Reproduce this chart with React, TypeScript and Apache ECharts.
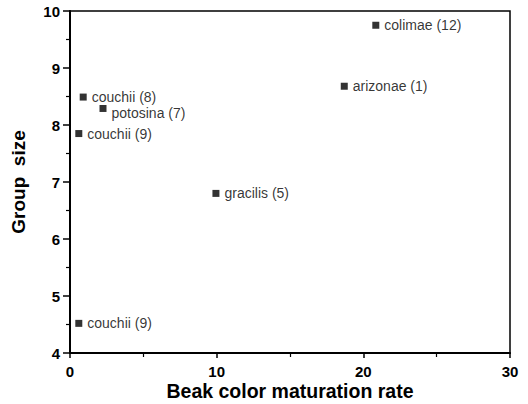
import React, { useEffect, useRef } from "react";
import * as echarts from "echarts";

const names = ["colimae (12)", "arizonae (1)", "couchii (8)", "potosina (7)", "couchii (9)", "gracilis (5)", "couchii (9)"];
const beakRate = [20.85, 18.7, 0.9, 2.25, 0.6, 9.95, 0.6];
const groupSize = [9.75, 8.68, 8.49, 8.29, 7.85, 6.8, 4.52];
const labelOffsets = [[0, 0], [0, 0], [0, 0], [0, 5], [0, 0], [0, 0], [0, 0]];
const xTicks = [0, 10, 20, 30];
const yTicks = [4, 5, 6, 7, 8, 9, 10];

const FONT = "Liberation Sans, Arial, Helvetica, sans-serif";

export default function App() {
  const ref = useRef<HTMLDivElement>(null);
  useEffect(() => {
    if (!ref.current) return;
    const chart = echarts.init(ref.current, undefined, { renderer: "svg" });
    chart.setOption({
      animation: false,
      backgroundColor: "#ffffff",
      textStyle: { fontFamily: FONT, color: "#000" },
      grid: {
        left: 70,
        right: 18,
        top: 11,
        bottom: 51,
        show: true,
        borderColor: "#000",
        borderWidth: 1.5,
        outerBoundsMode: "none",
        containLabel: false,
      },
      xAxis: {
        type: "value",
        min: xTicks[0],
        max: xTicks[xTicks.length - 1],
        interval: 10,
        name: "Beak color maturation rate",
        nameLocation: "middle",
        nameGap: 28,
        nameMoveOverlap: false,
        nameTextStyle: { fontSize: 19.5, lineHeight: 20, fontWeight: "bold", color: "#000", fontFamily: FONT, verticalAlign: "top" },
        axisLine: { show: true, lineStyle: { color: "#000", width: 2 } },
        axisTick: { show: true, length: 5, lineStyle: { color: "#000", width: 1.5 } },
        minorTick: { show: true, splitNumber: 2, length: 4, lineStyle: { color: "#000", width: 1.2 } },
        splitLine: { show: false },
        axisLabel: { fontSize: 15, lineHeight: 15, fontWeight: "bold", color: "#000", margin: 11, fontFamily: FONT },
      },
      yAxis: {
        type: "value",
        min: yTicks[0],
        max: yTicks[yTicks.length - 1],
        interval: 1,
        name: "Group  size",
        nameLocation: "middle",
        nameGap: 42,
        nameMoveOverlap: false,
        nameTextStyle: { fontSize: 19, fontWeight: "bold", color: "#000", fontFamily: FONT },
        axisLine: { show: true, lineStyle: { color: "#000", width: 2 } },
        axisTick: { show: true, length: 7, lineStyle: { color: "#000", width: 1.5 } },
        minorTick: { show: true, splitNumber: 2, length: 4, lineStyle: { color: "#000", width: 1.2 } },
        splitLine: { show: false },
        axisLabel: { fontSize: 15, fontWeight: "bold", color: "#000", margin: 10, fontFamily: FONT },
      },
      series: [
        {
          type: "scatter",
          symbol: "rect",
          symbolSize: 7,
          itemStyle: { color: "#000" },
          label: {
            show: true,
            position: "right",
            distance: 5,
            fontSize: 14,
            color: "#000",
            fontFamily: FONT,
            formatter: (p: any) => names[p.dataIndex],
          },
          data: beakRate.map((x, i) => ({
            value: [x, groupSize[i]],
            label: { offset: labelOffsets[i] },
          })),
        },
      ],
    });
    return () => chart.dispose();
  }, []);
  return <div ref={ref} style={{ width: 528, height: 404, position: "absolute", left: 0, top: 0 }} />;
}
